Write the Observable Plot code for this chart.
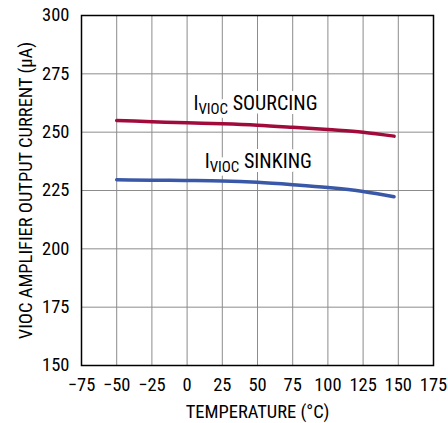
<!DOCTYPE html>
<html>
<head>
<meta charset="utf-8">
<script src="https://cdn.jsdelivr.net/npm/d3@7"></script>
<script src="https://cdn.jsdelivr.net/npm/@observablehq/plot@0.6"></script>
<style>
  html, body { margin: 0; padding: 0; background: #fff; }
  #chart { width: 448px; height: 423px; }
</style>
</head>
<body>
<div id="chart"></div>
<script>
const temps = [-50, -25, 0, 25, 50, 75, 100, 125, 147];
const sourcing = [255.0, 254.5, 254.0, 253.6, 253.0, 252.1, 251.1, 250.0, 248.3];
const sinking = [229.6, 229.4, 229.3, 229.1, 228.5, 227.5, 226.3, 224.6, 222.3];
const xTicks = [-75, -50, -25, 0, 25, 50, 75, 100, 125, 150, 175];
const yTicks = [150, 175, 200, 225, 250, 275, 300];
const seriesNames = ["SOURCING", "SINKING"];
const seriesColors = ["#a00b3c", "#3a58a8"];
const labelPos = [{x: 4.5, y: 262.4}, {x: 12.5, y: 237.5}];

const rows = [];
temps.forEach((t, i) => {
  rows.push({series: seriesNames[0], t, v: sourcing[i]});
  rows.push({series: seriesNames[1], t, v: sinking[i]});
});
const labels = seriesNames.map((s, i) => ({text: "IVIOC " + s, x: labelPos[i].x, y: labelPos[i].y}));

const font = "'Liberation Sans Narrow', 'Roboto Condensed', Arial, sans-serif";

const chart = Plot.plot({
  width: 448,
  height: 423,
  marginLeft: 81,
  marginRight: 15,
  marginTop: 15,
  marginBottom: 58,
  style: {fontFamily: font, fontSize: "18px", color: "#000", background: "#fff"},
  x: {domain: [-75, 175]},
  y: {domain: [150, 300]},
  color: {domain: seriesNames, range: seriesColors},
  marks: [
    Plot.gridX(xTicks, {stroke: "#8c8c8c", strokeOpacity: 1, strokeWidth: 1}),
    Plot.gridY(yTicks, {stroke: "#8c8c8c", strokeOpacity: 1, strokeWidth: 1}),
    Plot.text(labels, {x: "x", y: "y", text: "text", textAnchor: "start", fontSize: 20, fill: "white", stroke: "white", strokeWidth: 8}),
    Plot.text(labels, {x: "x", y: "y", text: "text", textAnchor: "start", fontSize: 20, fill: "#000"}),
    Plot.line(rows, {x: "t", y: "v", z: "series", stroke: "series", strokeWidth: 3.5, curve: "monotone-x"}),
    Plot.frame({stroke: "#000", strokeWidth: 1.5}),
    Plot.axisX({ticks: xTicks, tickSize: 0, tickPadding: 12, fontSize: 18.5, label: "TEMPERATURE (°C)", labelAnchor: "center", labelOffset: 52, labelArrow: "none"}),
    Plot.axisY({ticks: yTicks, tickSize: 0, tickPadding: 12, fontSize: 18.5, label: "VIOC AMPLIFIER OUTPUT CURRENT (µA)", labelAnchor: "center", labelOffset: 63, labelArrow: "none"})
  ]
});

// Subscript formatting for series labels
d3.select(chart).selectAll("text").each(function() {
  const el = this;
  const txt = el.textContent;
  if (txt.startsWith("IVIOC ")) {
    const rest = txt.slice(5);
    el.textContent = "";
    const s = d3.select(el);
    s.append("tspan").text("I");
    s.append("tspan").attr("font-size", 15).attr("dy", "4").text("VIOC");
    s.append("tspan").attr("dy", "-4").text(rest);
  }
});
document.getElementById("chart").appendChild(chart);
</script>
</body>
</html>
